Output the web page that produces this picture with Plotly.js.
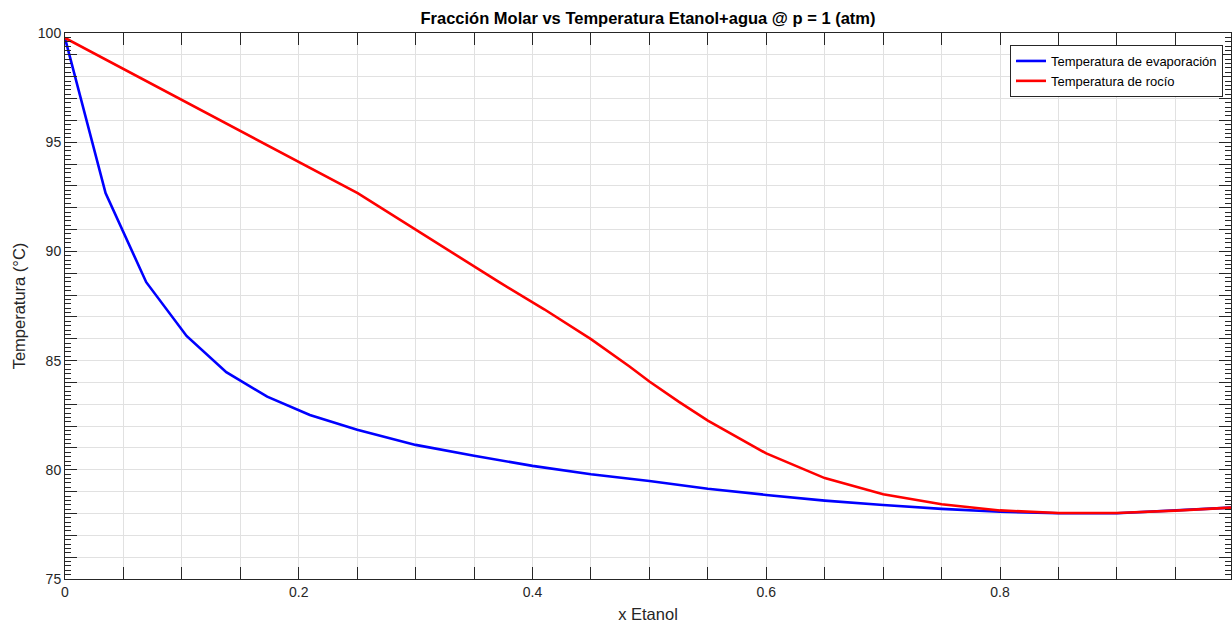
<!DOCTYPE html>
<html>
<head>
<meta charset="utf-8">
<script src="https://cdn.plot.ly/plotly-3.0.1.min.js"></script>
<style>html,body{margin:0;padding:0;background:#fff;}#chart{width:1232px;height:625px;}</style>
</head>
<body>
<div id="chart"></div>
<script>
// Liquid (bubble / evaporation) curve: x ethanol vs temperature
const xLiquid = [0, 0.0347, 0.0695, 0.104, 0.138, 0.173, 0.2095, 0.25, 0.30, 0.35, 0.40, 0.45, 0.50, 0.55, 0.60, 0.65, 0.70, 0.75, 0.80, 0.85, 0.90, 0.95, 0.9976];
const tLiquid = [99.77, 92.67, 88.59, 86.13, 84.47, 83.35, 82.51, 81.83, 81.14, 80.64, 80.18, 79.80, 79.49, 79.13, 78.85, 78.59, 78.39, 78.21, 78.08, 78.01, 78.01, 78.13, 78.27];
// Vapour (dew / rocio) curve: y ethanol vs temperature
const yVapor = [0, 0.2504, 0.3715, 0.41, 0.45, 0.483, 0.50, 0.525, 0.55, 0.60, 0.65, 0.70, 0.75, 0.80, 0.85, 0.90, 0.95, 0.9976];
const tVapor = [99.77, 92.67, 88.59, 87.35, 85.98, 84.73, 84.04, 83.12, 82.25, 80.75, 79.62, 78.88, 78.42, 78.14, 78.02, 78.02, 78.13, 78.27];

const seriesNames = ['Temperatura de evaporación', 'Temperatura de rocío'];
const xTickVals = [0, 0.05, 0.1, 0.15, 0.2, 0.25, 0.3, 0.35, 0.4, 0.45, 0.5, 0.55, 0.6, 0.65, 0.7, 0.75, 0.8, 0.85, 0.9, 0.95];
const xTickText = ['0', '', '', '', '0.2', '', '', '', '0.4', '', '', '', '0.6', '', '', '', '0.8', '', '', ''];
const yTickVals = [75, 76, 77, 78, 79, 80, 81, 82, 83, 84, 85, 86, 87, 88, 89, 90, 91, 92, 93, 94, 95, 96, 97, 98, 99, 100];
const yTickText = ['75', '', '', '', '', '80', '', '', '', '', '85', '', '', '', '', '90', '', '', '', '', '95', '', '', '', '', '100'];

const FONT = 'Liberation Sans, Arial, Helvetica, sans-serif';
const AX = '#262626';

const traces = [
  {x: xLiquid, y: tLiquid, type: 'scatter', mode: 'lines', name: seriesNames[0],
   line: {color: '#0000ff', width: 2.6}},
  {x: yVapor, y: tVapor, type: 'scatter', mode: 'lines', name: seriesNames[1],
   line: {color: '#ff0000', width: 2.6}}
];

const layout = {
  width: 1232, height: 625,
  margin: {l: 65, r: 1, t: 33, b: 46},
  paper_bgcolor: '#ffffff', plot_bgcolor: '#ffffff',
  font: {family: FONT, color: AX, size: 14},
  title: {text: '<b>Fracción Molar vs Temperatura Etanol+agua @ p = 1 (atm)</b>',
          font: {family: FONT, size: 16.5, color: '#000000'},
          x: 0.5, xref: 'paper', xanchor: 'center', y: 1 - 18/625, yref: 'container', yanchor: 'middle'},
  xaxis: {
    range: [0, 0.9976], tickmode: 'array', tickvals: xTickVals, ticktext: xTickText,
    ticks: 'inside', ticklen: 12, tickwidth: 1, tickcolor: AX,
    showline: true, linecolor: AX, linewidth: 1, mirror: 'ticks',
    showgrid: true, gridcolor: '#e1e1e1', gridwidth: 1, zeroline: false,
    tickfont: {family: FONT, size: 14, color: AX},
    title: {text: 'x Etanol', font: {family: FONT, size: 16.5, color: AX}, standoff: 9}
  },
  yaxis: {
    range: [75, 100], tickmode: 'array', tickvals: yTickVals, ticktext: yTickText,
    ticks: 'inside', ticklen: 12, tickwidth: 1, tickcolor: AX,
    showline: true, linecolor: AX, linewidth: 1, mirror: 'ticks',
    showgrid: true, gridcolor: '#e1e1e1', gridwidth: 1, zeroline: false,
    minor: {tickmode: 'linear', tick0: 75, dtick: 0.2, ticks: 'inside', ticklen: 6, tickcolor: AX, tickwidth: 1, showgrid: false},
    tickfont: {family: FONT, size: 14, color: AX},
    title: {text: 'Temperatura (°C)', font: {family: FONT, size: 16.5, color: AX}, standoff: 8}
  },
  showlegend: true,
  legend: {x: (1223 - 65) / 1166, xanchor: 'right', y: (579 - 45) / 546, yanchor: 'top',
           bgcolor: '#ffffff', bordercolor: AX, borderwidth: 1,
           font: {family: FONT, size: 13, color: '#000000'}, tracegroupgap: 0}
};

Plotly.newPlot('chart', traces, layout, {staticPlot: true, displayModeBar: false});
</script>
</body>
</html>
